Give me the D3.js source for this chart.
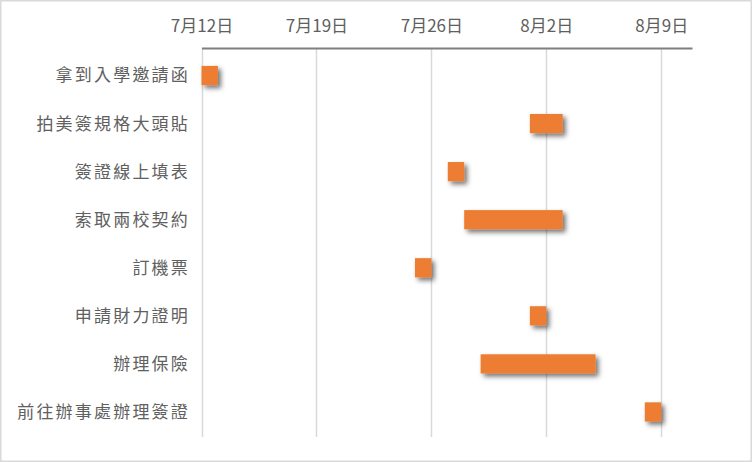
<!DOCTYPE html>
<html><head><meta charset="utf-8">
<script src="https://cdn.jsdelivr.net/npm/d3@7"></script>
<style>
html,body{margin:0;padding:0;background:#fff;}
svg text{font-family:"Noto Sans CJK TC","Noto Sans",sans-serif;}
</style></head>
<body>
<svg id="c" width="752" height="462"></svg>
<script>
const tasks = ["拿到入學邀請函","拍美簽規格大頭貼","簽證線上填表","索取兩校契約","訂機票","申請財力證明","辦理保險","前往辦事處辦理簽證"];
const startDates = ["2020-07-12","2020-08-01","2020-07-27","2020-07-28","2020-07-25","2020-08-01","2020-07-29","2020-08-08"];
const durations = [1,2,1,6,1,1,7,1];
const tickDates = ["2020-07-12","2020-07-19","2020-07-26","2020-08-02","2020-08-09"];
const axisMin = "2020-07-12", axisMax = "2020-08-10T21:00";

(function(){
const parse = s => new Date(s + (s.length===10 ? "T00:00" : ""));
const svg = d3.select("#c");
const W = 752, H = 462;
const pLeft = 201.5, pRight = 692, pTop = 48, pBottom = 437;

svg.append("rect").attr("x",0.75).attr("y",0.75).attr("width",W-1.5).attr("height",H-1.5)
  .attr("fill","#fff").attr("stroke","#d9d9d9").attr("stroke-width",1.5);

const defs = svg.append("defs");
const f = defs.append("filter").attr("id","sh").attr("x","-50%").attr("y","-50%").attr("width","200%").attr("height","200%");
f.append("feDropShadow").attr("dx",3).attr("dy",3).attr("stdDeviation",2.6)
  .attr("flood-color","#000").attr("flood-opacity",0.55);

const x = d3.scaleTime().domain([parse(axisMin), parse(axisMax)]).range([pLeft, pRight]);
const y = d3.scaleBand().domain(tasks).range([51.5, 436]).paddingInner(0.6).paddingOuter(0.3);

const ticks = tickDates.map(parse);
svg.append("g").selectAll("line").data(ticks).join("line")
  .attr("x1",d=>Math.round(x(d))+0.5).attr("x2",d=>Math.round(x(d))+0.5)
  .attr("y1",pTop).attr("y2",pBottom)
  .attr("stroke","#d9d9d9").attr("stroke-width",1.5);

const ax = svg.append("g").attr("transform",`translate(0,${pTop})`)
  .call(d3.axisTop(x).tickValues(ticks).tickSize(0).tickPadding(16)
    .tickFormat(d=>`${d.getMonth()+1}月${d.getDate()}日`));
ax.select(".domain").attr("stroke","#7f7f7f").attr("stroke-width",2);
ax.selectAll("text").attr("fill","#606060").style("font-size","17px");

svg.append("g").selectAll("rect").data(tasks).join("rect")
  .attr("x",(d,i)=>x(parse(startDates[i])))
  .attr("y",d=>y(d))
  .attr("width",(d,i)=>{const s=parse(startDates[i]); const e=new Date(s); e.setDate(e.getDate()+durations[i]); return x(e)-x(s);})
  .attr("height",y.bandwidth())
  .attr("fill","#ed7d31").attr("filter","url(#sh)");

svg.append("g").selectAll("text").data(tasks).join("text")
  .attr("x",190).attr("y",d=>y(d)+y.bandwidth()/2)
  .attr("dy","0.35em").attr("text-anchor","end")
  .attr("fill","#606060").style("font-size","17px").style("letter-spacing","2.2px")
  .text(d=>d);
})();
</script>
</body></html>
